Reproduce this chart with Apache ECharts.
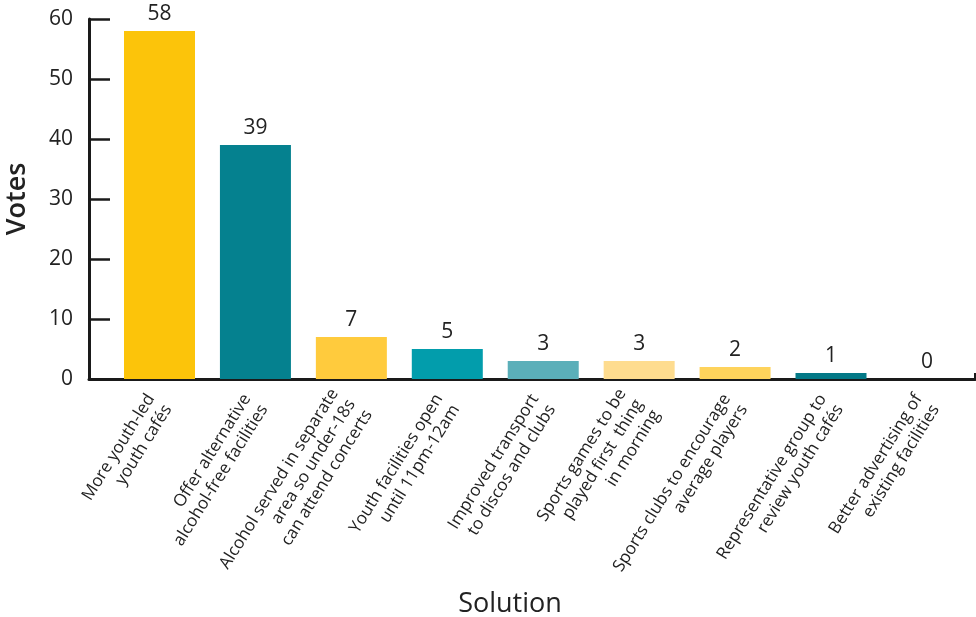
<!DOCTYPE html>
<html>
<head>
<meta charset="utf-8">
<script src="https://cdn.jsdelivr.net/npm/echarts@6/dist/echarts.min.js"></script>
<style>
html,body{margin:0;padding:0;background:#fff;}
#chart{width:976px;height:617px;}
</style>
</head>
<body>
<div id="chart"></div>
<script>
const categories = [
  "More youth-led\nyouth cafés",
  "Offer alternative\nalcohol-free facilities",
  "Alcohol served in separate\narea so under-18s\ncan attend concerts",
  "Youth facilities open\nuntil 11pm-12am",
  "Improved transport\nto discos and clubs",
  "Sports games to be\nplayed first  thing\nin morning",
  "Sports clubs to encourage\naverage players",
  "Representative group to\nreview youth cafés",
  "Better advertising of\nexisting facilities"
];
const votes = [58, 39, 7, 5, 3, 3, 2, 1, 0];
const barColors = ["#FCC40A", "#05818F", "#FFCB3D", "#029DAC", "#5BAFB9", "#FEDC8F", "#FED35C", "#037987", "#037987"];
const yTicks = [0, 10, 20, 30, 40, 50, 60];

const FONT = "'Open Sans', 'Noto Sans', sans-serif";
const X_MIN = -0.735, X_MAX = 8.501;

const chart = echarts.init(document.getElementById('chart'), null, {renderer: 'canvas'});
chart.setOption({
  backgroundColor: '#ffffff',
  animation: false,
  textStyle: {fontFamily: FONT},
  grid: {left: 89, right: 1, top: 19, bottom: 238, outerBoundsMode: 'none'},
  xAxis: {
    type: 'value',
    min: X_MIN,
    max: X_MAX,
    name: 'Solution',
    nameLocation: 'middle',
    nameGap: 212,
    nameMoveOverlap: false,
    nameTextStyle: {fontSize: 27, color: '#222', fontFamily: FONT, padding: [0, 44, 0, 0]},
    axisLine: {show: true, onZero: false, lineStyle: {color: '#1a1a1a', width: 3}},
    axisTick: {show: true, inside: true, length: 6, customValues: [X_MAX], lineStyle: {color: '#1a1a1a', width: 2}},
    splitLine: {show: false},
    axisLabel: {
      customValues: categories.map((c, i) => i),
      formatter: v => categories[Math.round(v)],
      rotate: 58,
      margin: 22,
      fontSize: 17,
      lineHeight: 20,
      color: '#222',
      fontFamily: FONT
    }
  },
  yAxis: {
    type: 'value',
    min: 0,
    max: 60,
    interval: 10,
    name: 'Votes',
    nameLocation: 'middle',
    nameGap: 58,
    nameTextStyle: {fontSize: 27, color: '#222', fontFamily: FONT, fontWeight: 600},
    axisLine: {show: true, onZero: false, lineStyle: {color: '#1a1a1a', width: 3}},
    axisTick: {show: true, inside: true, length: 21, lineStyle: {color: '#1a1a1a', width: 2.5}},
    splitLine: {show: false},
    axisLabel: {
      customValues: yTicks,
      margin: 16,
      fontSize: 21,
      color: '#222',
      fontFamily: FONT
    }
  },
  series: [{
    type: 'bar',
    barWidth: 71,
    data: votes.map((v, i) => ({value: [i, v], itemStyle: {color: barColors[i]}})),
    label: {
      show: true,
      position: 'top',
      distance: 6,
      fontSize: 21,
      color: '#222',
      fontFamily: FONT,
      formatter: p => p.value[1]
    }
  }]
});
</script>
</body>
</html>
